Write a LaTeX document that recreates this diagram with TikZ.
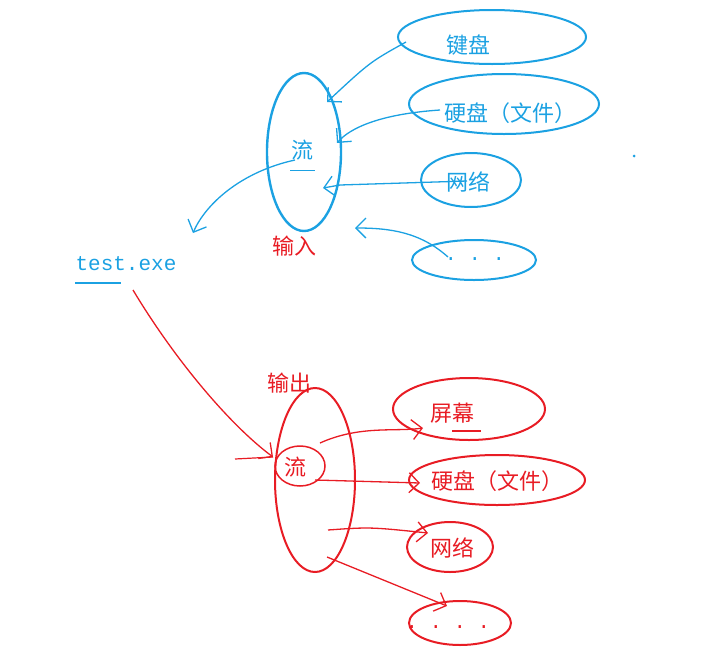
\documentclass[tikz,border=0pt]{standalone}
\usepackage{fontspec}
\setmonofont{Liberation Mono}
\newfontfamily\cjk{Noto Sans CJK SC}
\usetikzlibrary{shapes.geometric,arrows.meta}
\definecolor{penblue}{RGB}{27,161,226}
\definecolor{penred}{RGB}{232,28,36}
\tikzset{
  blob/.style={draw,ellipse,inner sep=0pt,line width=2pt},
  word/.style={font=\cjk\fontsize{22}{24}\selectfont,inner sep=0pt},
  tag/.style={font=\cjk\fontsize{22}{24}\selectfont,inner sep=0pt,text=penred},
  pen/.style={line width=1.3pt,-{Straight Barb[length=10pt,width=20pt]}},
}

\begin{document}
\begin{tikzpicture}[x=1pt,y=-1pt]
\useasboundingbox (0,0) rectangle (710,646);

% input side
\begin{scope}[penblue]
\node[blob,minimum width=188,minimum height=54] (kb) at (492,37) {};
\node[blob,minimum width=190,minimum height=60] (hd) at (504,104) {};
\node[blob,minimum width=100,minimum height=54] (net) at (471,180) {};
\node[blob,minimum width=124,minimum height=40] (more) at (474,260) {};
\node[blob,minimum width=74,minimum height=158,line width=2.4pt] (instream) at (304,152) {};

\node[word] (kbtext) at (468,45) {键盘};
\node[word] (hdtext) at (510,113) {硬盘（文件）};
\node[word] (nettext) at (468,182) {网络};
\node[font=\ttfamily\fontsize{20}{22}\selectfont,inner sep=0pt] (moretext) at (475,259) {. . .};
\node[word] (instext) at (302,150) {流};
\node[font=\ttfamily\fontsize{21}{24}\selectfont,inner sep=0pt] (exe) at (126,264) {test.exe};

\coordinate (kbin) at (327,102);
\coordinate (hdin) at (337,143);
\coordinate (netin) at (323,188);
\coordinate (morein) at (355,228);
\coordinate (insout) at (295,160);
\coordinate (exein) at (193,233);

\draw[pen] (406,42) .. controls (370,62) .. (kbin);
\draw[pen] (440,110) .. controls (380,114) and (350,128) .. (hdin);
\draw[pen] (467,181) -- (340,185) -- (netin);
\draw[pen] (448,257) .. controls (420,232) and (390,228) .. (morein);
\draw[pen] (insout) .. controls (240,172) and (205,205) .. (exein);

\draw[line width=1.5pt] (75,283) -- (121,283);
\draw[line width=1pt] (290,170) -- (315,170);
\fill (634,156) circle (1.5);
\end{scope}

\node[tag] (intag) at (294,246) {输入};

% output side
\begin{scope}[penred]
\node[blob,minimum width=80,minimum height=184] (outstream) at (315,480) {};
\node[blob,minimum width=50,minimum height=40,line width=1.5pt] (core) at (300,466) {};
\node[blob,minimum width=152,minimum height=62] (screen) at (469,409) {};
\node[blob,minimum width=176,minimum height=50] (disk) at (497,480) {};
\node[blob,minimum width=86,minimum height=50] (web) at (450,547) {};
\node[blob,minimum width=102,minimum height=44] (rest) at (460,623) {};

\node[word] (outtext) at (295,467) {流};
\node[word] (screentext) at (452,413) {屏幕};
\node[word] (disktext) at (497,481) {硬盘（文件）};
\node[word] (webtext) at (452,548) {网络};
\node[font=\ttfamily\fontsize{20}{22}\selectfont,inner sep=0pt] (resttext) at (448,627) {. . . .};
\node[tag] (outtag) at (289,383) {输出};

\coordinate (corein) at (273,457);
\coordinate (screenin) at (423,428);
\coordinate (diskin) at (420,483);
\coordinate (webin) at (428,533);
\coordinate (restin) at (447,606);

\draw[pen] (133,290) .. controls (175,360) and (230,425) .. (corein);
\draw[line width=1.2pt] (235,459) -- (corein);
\draw[pen] (320,443) .. controls (360,425) and (395,432) .. (screenin);
\draw[pen] (315,480) -- (diskin);
\draw[pen] (328,530) .. controls (370,527) .. (webin);
\draw[pen] (327,557) -- (restin);

\draw[line width=1.2pt] (452,431) -- (481,431);
\end{scope}
\end{tikzpicture}
\end{document}
